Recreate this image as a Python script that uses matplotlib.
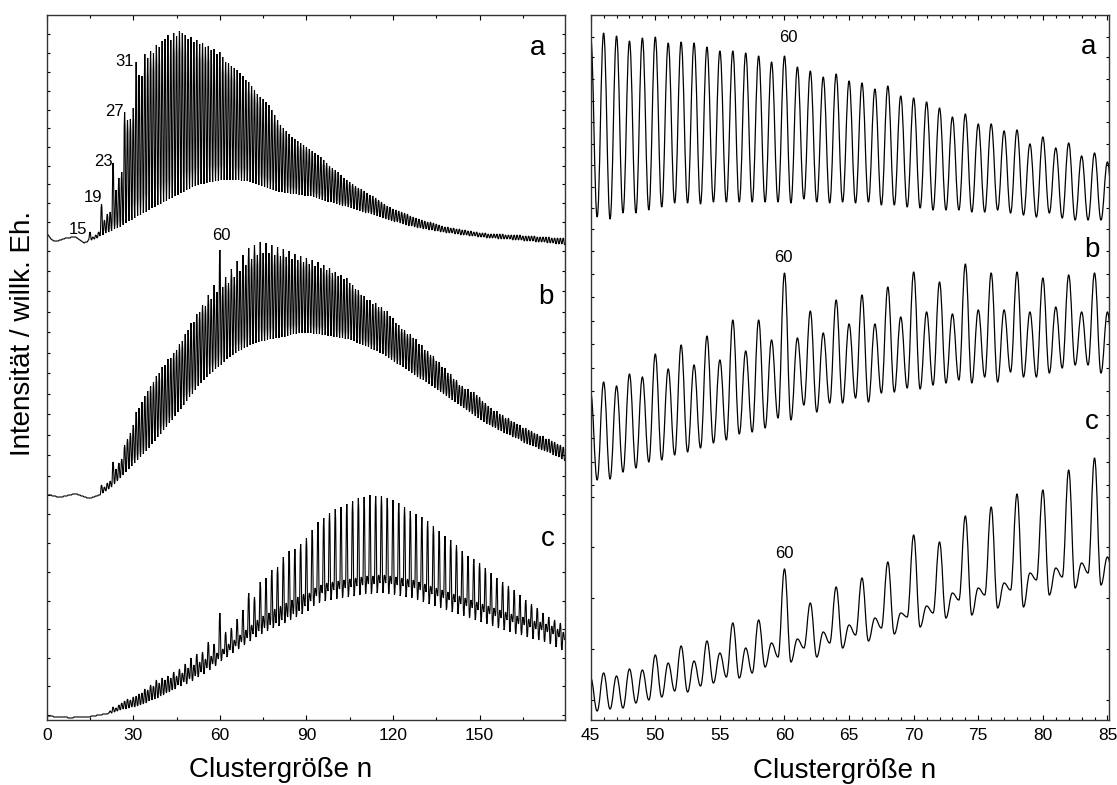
import matplotlib
matplotlib.use("Agg")
import matplotlib.pyplot as plt
from matplotlib.path import Path
from matplotlib.patches import PathPatch
from matplotlib.ticker import MultipleLocator, FixedLocator

plt.rcParams['font.family'] = ['Liberation Sans', 'DejaVu Sans']

# ---- left panel: cluster size n = 0..179, peak top at n, valley at n + 0.5 ----
left_n = list(range(180))

left_a_top = [17, 13, 10, 9, 9, 10, 11, 12, 12, 13, 13, 11, 9, 7, 8,
              18, 13, 15, 18, 46, 30, 36, 38, 87, 60, 72, 78, 138, 130, 131, 142, 188, 175, 174,
              196, 192, 199, 197, 205, 203, 209, 211, 215, 210, 217, 214, 219, 217, 215, 211,
              213, 208, 210, 206, 207, 203, 204, 200, 201, 196, 198,
              193, 188, 187, 184, 182, 180, 177, 174, 170, 168, 164, 160, 156, 153, 151, 148, 145, 140, 135, 130,
              125, 122, 119, 116, 113, 111, 109, 107, 105, 103, 101, 99, 97, 95, 93, 90, 87, 84, 82, 80,
              78, 75, 72, 70, 68, 66, 64, 62, 61, 59, 57, 55, 54, 52, 50, 48, 46, 44, 43, 41,
              40, 39, 38, 37, 36, 34, 33, 32, 31, 30, 29, 28, 28, 27, 26, 25, 24, 23, 23, 22,
              22, 21, 21, 20, 20, 19, 19, 18, 18, 17, 17, 17, 16, 16, 16, 16, 16, 16, 15, 15,
              15, 15, 15, 15, 14, 14, 14, 14, 14, 13, 13, 13, 13, 13, 12, 12, 12, 12, 12]
left_a_low = [15, 11, 9, 9, 10, 11, 12, 12, 13, 13, 12, 10, 8, 8, 10,
              10, 11, 12, 14, 15, 17, 18, 19, 21, 22, 23, 25, 27, 29, 30, 32, 34, 35, 37,
              38, 40, 42, 43, 45, 46, 48, 49, 51, 52, 54, 55, 57, 58, 60, 61, 63, 64, 65, 66, 66, 67, 68, 68, 69, 69, 70,
              70, 70, 70, 70, 70, 70, 69, 69, 69, 68, 67, 66, 65, 64, 63, 62, 61, 60, 59, 58,
              58, 57, 57, 56, 56, 56, 55, 55, 54, 54, 54, 53, 52, 51, 50, 49, 48, 48, 47, 46,
              45, 44, 44, 43, 42, 41, 40, 39, 38, 37, 37, 36, 35, 34, 33, 32, 31, 30, 29, 28,
              28, 27, 26, 25, 24, 24, 23, 22, 22, 21, 21, 20, 20, 19, 19, 18, 18, 17, 17, 17,
              16, 16, 15, 15, 15, 14, 14, 14, 13, 13, 13, 12, 12, 12, 12, 11, 11, 11, 11, 11,
              10, 10, 10, 10, 9, 9, 9, 9, 8, 8, 8, 8, 7, 7, 7, 6, 6, 6, 5]

left_b_top = [10, 10, 9, 9, 8, 8, 9, 9, 10, 11, 11, 10, 9, 8, 7, 7, 8, 9, 10,
              20, 18, 22, 24, 43, 36, 42, 46, 60, 66, 72, 80, 93, 97, 103, 109, 114, 119, 123, 129,
              132, 138, 140, 146, 147, 152, 155, 161, 164, 171, 175, 182, 183, 191, 193, 200, 199, 210,
              206, 220, 213, 255,
              218, 228, 222, 236, 228, 244, 234, 250, 240, 257, 246, 260, 250, 263, 252, 262, 252, 260,
              250, 258, 249, 256, 248, 254, 246,
              251, 245, 249, 243, 247, 241, 245, 239, 243, 237,
              240, 235, 237, 232, 233, 229, 230, 226, 227, 222,
              220, 216, 215, 210, 209, 205, 205, 201, 202, 198,
              198, 194, 194, 189, 187, 182, 180, 176, 175, 171,
              171, 167, 166, 161, 160, 155, 154, 150, 149, 144,
              143, 138, 137, 132, 131, 126, 125, 120, 119, 116,
              116, 113, 113, 110, 108, 104, 102, 99, 97, 94,
              94, 91, 90, 87, 87, 84, 83, 81, 80, 77,
              77, 75, 74, 72, 71, 69, 69, 66, 66, 64,
              63, 61, 60, 58]
left_b_low = [10, 10, 9, 8, 8, 8, 9, 10, 10, 11, 11, 10, 9, 8, 7, 7, 8, 9, 10,
              12, 14, 16, 18, 21, 24, 27, 30, 33, 36, 39, 42, 45, 48, 51, 54, 57, 61, 64, 68, 71, 75,
              78, 82, 85, 89, 93, 96, 100, 104, 108, 111, 115, 119, 122, 125, 128, 131, 133, 136, 138, 140,
              143, 146, 148, 150, 152, 154, 155, 157, 158, 160, 161, 162, 163, 164, 164, 165, 166, 166,
              167, 167, 168, 168, 169, 170,
              171, 171, 172, 172, 172, 172, 172, 171, 171, 171, 170, 170,
              169, 169, 168, 168, 167, 167, 166, 166, 165, 164, 162,
              161, 160, 159, 158, 156, 155, 154, 152, 151, 149, 147, 145,
              143, 141, 140, 138, 136, 134, 132, 130, 128, 126, 125, 123,
              121, 119, 117, 115, 113, 111, 109, 107, 105, 103, 101, 99,
              97, 95, 93, 91, 89, 87, 85, 83, 81, 80, 78,
              77, 75, 74, 72, 71, 70, 68, 67, 66, 64, 62,
              61, 60, 59, 58, 56, 55, 54, 53, 52, 50, 49, 48, 46, 44]

left_c_top = [5, 4, 4, 3, 3, 3, 3, 3, 2, 2, 3, 3, 3, 3, 3, 3, 4, 4, 5, 5, 6, 6,
              9, 13, 12, 15, 17, 19, 21, 20, 23, 24, 26, 27, 31, 30, 35, 34, 40, 37, 42, 40, 44, 42, 48,
              44, 51, 47, 56, 52, 62, 55, 66, 58, 68, 61, 78, 64, 76, 67, 107,
              71, 88, 76, 92, 80, 101, 85, 110, 90, 127, 95, 123, 100, 138, 104, 142, 107, 150, 111, 153,
              114, 163, 117, 169, 120, 171, 123, 176, 126, 182,
              127, 190, 132, 198, 135, 202, 137, 207, 138, 211,
              139, 213, 140, 216, 141, 219, 142, 222, 143, 223,
              144, 225, 144, 224, 145, 224, 145, 222, 144, 220,
              143, 217, 142, 213, 141, 209, 140, 206, 138, 203,
              136, 199, 134, 194, 132, 189, 130, 184, 128, 180,
              126, 175, 124, 169, 122, 164, 120, 161, 118, 157,
              116, 152, 114, 147, 112, 142, 110, 138, 108, 134,
              106, 130, 104, 125, 103, 120, 101, 116, 99, 112,
              98, 107, 96, 103, 94, 100, 91, 97, 88]
left_c_low = [4, 4, 3, 3, 3, 3, 3, 2, 2, 3, 3, 3, 3, 3, 3, 4, 4, 5, 5, 6, 6, 7,
              7, 8, 9, 10, 11, 11, 12, 13, 13, 14, 15, 16, 17, 19, 20, 21, 22, 24, 25, 27, 28, 30, 31,
              35, 34, 38, 36, 41, 39, 44, 43, 48, 46, 52, 50, 56, 54, 61, 59,
              66, 63, 70, 67, 74, 71, 78, 75, 82, 79, 86, 83, 89, 86, 92, 89, 95, 92, 97, 94,
              100, 97, 103, 100, 106, 103, 109, 106, 114, 109,
              119, 114, 124, 117, 127, 119, 129, 120, 130, 121,
              131, 122, 132, 123, 133, 124, 134, 125, 135, 126,
              136, 126, 136, 127, 137, 127, 137, 126, 136, 125,
              135, 124, 134, 123, 133, 122, 132, 120, 130, 118,
              128, 116, 126, 114, 124, 112, 122, 110, 120, 108,
              118, 106, 116, 104, 114, 102, 112, 100, 110, 98,
              108, 96, 106, 94, 104, 92, 102, 90, 100, 88,
              98, 86, 96, 85, 95, 83, 93, 81, 91, 80,
              90, 78, 88, 76, 86, 73, 83, 70, 80]

# ---- right panel: zoom n = 44..85 ----
right_n = list(range(44, 86))

right_a_top = [210,
               213, 217, 214, 209, 212, 213, 207, 208, 207, 203,
               199, 199, 197, 194, 188, 194, 183, 179, 173, 176,
               169, 167, 161, 164, 154, 152, 148, 142, 133, 136,
               126, 126, 119, 120, 106, 113, 102, 107, 94, 97,
               88]
right_a_low = [35,
               33, 31, 37, 37, 40, 43, 47, 47, 46, 48,
               48, 48, 48, 48, 48, 47, 51, 48, 47, 48,
               47, 48, 45, 45, 43, 42, 40, 40, 40, 38,
               38, 40, 37, 35, 33, 37, 32, 30, 30, 30,
               30]
right_b_top = [118,
               112, 123, 119, 131, 128, 151, 136, 160, 140, 169,
               145, 185, 154, 185, 165, 232, 167, 194, 172, 205,
               181, 210, 181, 218, 188, 233, 193, 223, 191, 241,
               195, 232, 195, 233, 193, 227, 198, 230, 193, 232,
               193]
right_b_low = [30,
               25, 26, 33, 37, 43, 45, 50, 53, 57, 62,
               65, 71, 73, 77, 87, 85, 100, 93, 102, 102,
               107, 103, 112, 113, 117, 116, 120, 122, 125, 122,
               128, 123, 133, 128, 128, 132, 137, 140, 140, 132,
               135]
right_c_top = [45,
               42, 47, 44, 51, 50, 65, 57, 74, 59, 79,
               67, 97, 72, 100, 77, 151, 81, 117, 88, 133,
               95, 142, 102, 158, 107, 185, 114, 178, 127, 204,
               132, 213, 137, 226, 147, 230, 152, 250, 157, 262,
               163]
right_c_low = [20,
               9, 11, 12, 17, 20, 23, 29, 28, 34, 37,
               43, 42, 47, 53, 63, 58, 72, 63, 77, 72,
               85, 79, 92, 86, 103, 93, 107, 102, 120, 105,
               125, 112, 130, 113, 140, 125, 143, 132, 147, 135,
               140]

offsets = {'a': 470, 'b': 215, 'c': 0}

for arr in [left_a_top, left_a_low, left_b_top, left_b_low, left_c_top, left_c_low]:
    assert len(arr) == len(left_n), len(arr)
for arr in [right_a_top, right_a_low, right_b_top, right_b_low, right_c_top, right_c_low]:
    assert len(arr) == len(right_n), len(arr)


def spectrum(ax, n, top, low, offset, lw):
    # peaks at n, valleys at n + 0.5, joined by smooth bezier segments
    pts = []
    for i in range(len(n)):
        pts.append((n[i], top[i] + offset))
        pts.append((n[i] + 0.5, low[i] + offset))
    verts = [pts[0]]
    codes = [Path.MOVETO]
    k = 0.4
    for (x0, y0), (x1, y1) in zip(pts[:-1], pts[1:]):
        d = x1 - x0
        verts += [(x0 + k * d, y0), (x1 - k * d, y1), (x1, y1)]
        codes += [Path.CURVE4] * 3
    patch = PathPatch(Path(verts, codes), fill=False, edgecolor='black', lw=lw,
                      transform=ax.transData)
    ax.add_patch(patch)


W, H = 1117, 785
fig = plt.figure(figsize=(W / 100, H / 100), dpi=100)
ax1 = fig.add_axes([46.7 / W, 65 / H, (565 - 46.7) / W, 705 / H])
ax2 = fig.add_axes([590.7 / W, 65 / H, (1109 - 590.7) / W, 705 / H])

spectrum(ax1, left_n, left_a_top, left_a_low, offsets['a'], 0.8)
spectrum(ax1, left_n, left_b_top, left_b_low, offsets['b'], 0.8)
spectrum(ax1, left_n, left_c_top, left_c_low, offsets['c'], 0.8)
spectrum(ax2, right_n, right_a_top, right_a_low, offsets['a'], 0.9)
spectrum(ax2, right_n, right_b_top, right_b_low, offsets['b'], 0.9)
spectrum(ax2, right_n, right_c_top, right_c_low, offsets['c'], 0.9)

ax1.set_xlim(0, 179.6)
ax2.set_xlim(45, 85.12)
for ax in (ax1, ax2):
    ax.set_ylim(0, 705)

left_yticks = [686, 667.3, 648.3, 629.3, 610.3, 591.7, 573, 554, 535.7, 516.7, 497.7,
               469.3, 449.3, 429, 408.3, 387.7, 367.3, 346.7, 326, 305.7, 285.3, 264.7, 244.3,
               225, 206, 177.3, 148.3, 119.3, 90.7, 62.3, 34, 5]
right_yticks = [683.3, 662.7, 640.7, 619.3, 598, 576.3, 555, 533.3, 512.3, 490.7,
                469.3, 446, 422.7, 399.3, 375.7, 352.3, 328.7, 305, 281.7, 258.3, 234.7,
                223.3, 173.3, 121.7, 71, 20]

ax1.xaxis.set_major_locator(MultipleLocator(30))
ax1.xaxis.set_minor_locator(MultipleLocator(15))
ax1.yaxis.set_major_locator(FixedLocator(left_yticks))
ax2.xaxis.set_major_locator(MultipleLocator(5))
ax2.xaxis.set_minor_locator(MultipleLocator(1))
ax2.yaxis.set_major_locator(FixedLocator(right_yticks))

for ax in (ax1, ax2):
    ax.tick_params(which='both', direction='in', top=True, right=True,
                   labelleft=False, labelsize=12.5, pad=6, width=0.8, colors='black')
    ax.tick_params(axis='x', which='major', length=3.5)
    ax.tick_params(axis='x', which='minor', length=2.5)
    ax.tick_params(axis='y', which='major', length=2.5)
    for sp in ax.spines.values():
        sp.set_linewidth(1.0)
        sp.set_color('#333333')

# peak labels
for x, y, s in [(27.1, 659, '31'), (23.3, 609, '27'), (19.5, 558, '23'),
                (16.0, 522, '19'), (10.9, 491, '15'), (60.4, 484, '60')]:
    ax1.text(x, y, s, ha='center', va='center', fontsize=12)
for x, y, s in [(60.27, 683, '60'), (59.9, 463, '60'), (60.0, 166, '60')]:
    ax2.text(x, y, s, ha='center', va='center', fontsize=12)

for x, y, s in [(170, 672, 'a'), (173, 423, 'b'), (173.8, 181, 'c')]:
    ax1.text(x, y, s, ha='center', va='center', fontsize=20)
for x, y, s in [(83.55, 673, 'a'), (83.8, 470, 'b'), (83.8, 298, 'c')]:
    ax2.text(x, y, s, ha='center', va='center', fontsize=20)

fig.text(23 / W, (H - 333) / H, 'Intensität / willk. Eh.', rotation=90,
         ha='center', va='center', fontsize=20)
fig.text(280.5 / W, 8 / H, 'Clustergröße n', ha='center', va='baseline', fontsize=20)
fig.text(844.5 / W, 7 / H, 'Clustergröße n', ha='center', va='baseline', fontsize=20)

fig.savefig('out.png', dpi=100)
